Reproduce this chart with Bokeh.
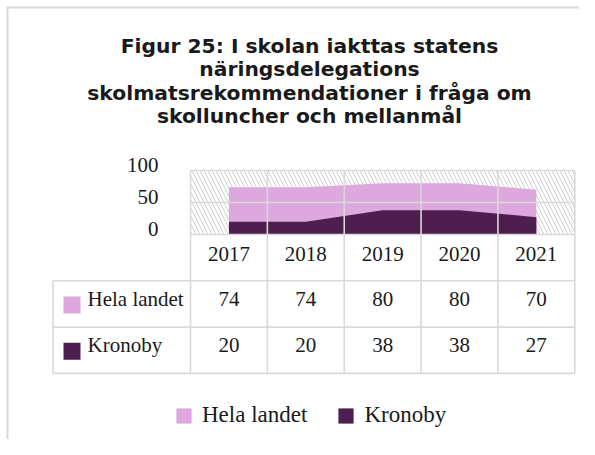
from bokeh.plotting import figure
from bokeh.models import Range1d, Legend, LegendItem
from bokeh.core.properties import value
from bokeh.embed import file_html
from bokeh.resources import INLINE

years = ["2017", "2018", "2019", "2020", "2021"]
hela_landet = [74, 74, 80, 80, 70]
kronoby = [20, 20, 38, 38, 27]
y_ticks = [0, 50, 100]
series_names = ["Hela landet", "Kronoby"]
title_lines = [
    "Figur 25: I skolan iakttas statens",
    "näringsdelegations",
    "skolmatsrekommendationer i fråga om",
    "skolluncher och mellanmål",
]

C_HELA = "#DCA8DE"
C_KRON = "#4E1E50"
GRID = "#D9D9D9"
INK = "#1a1a1a"
SERIF = "Liberation Serif"
SANS = "DejaVu Sans"

W, H = 579, 439
ORG = 0                  # picture pixel of the canvas origin
CW = 76.86               # pixel width of one category column
VU = 0.64                # pixels per value unit
X0, Y0 = 190, 234        # picture pixel of (category 0, value 0)


def px(x):  # picture pixel -> category units
    return (x - X0) / CW


def py(y):  # picture pixel -> value units
    return (Y0 - y) / VU


n = len(years)
label_left = px(52.5)
row_h = 46.3 / VU
y_min = -3 * row_h

p = figure(
    width=W, height=H,
    x_range=Range1d(px(ORG), px(ORG + W)),
    y_range=Range1d(py(ORG + H), py(ORG)),
    output_backend="svg", toolbar_location=None,
    min_border=0, background_fill_color="white", border_fill_color="white",
    outline_line_color=None,
)
p.axis.visible = False
p.grid.visible = False

# outer chart border (top and left edge)
p.segment(x0=[px(6), px(7)], x1=[px(ORG + W), px(7)],
          y0=[py(7), py(7)], y1=[py(7), py(ORG + H)],
          line_color=GRID, line_width=2)

# hatched plot background
p.quad(left=0, right=n, bottom=0, top=100, fill_color="white",
       hatch_pattern="\\", hatch_color="#D0D0D0", hatch_scale=8,
       hatch_weight=1, line_color=None)

xc = [i + 0.5 for i in range(n)]
r_hela = p.varea(x=xc, y1=[0] * n, y2=hela_landet, fill_color=C_HELA)
r_kron = p.varea(x=xc, y1=[0] * n, y2=kronoby, fill_color=C_KRON)

LW = 1.6
# horizontal gridlines in the chart
p.segment(x0=[0] * len(y_ticks), x1=[n] * len(y_ticks), y0=y_ticks, y1=y_ticks,
          line_color=GRID, line_width=LW)
# vertical category lines through chart and table
p.segment(x0=list(range(n + 1)), x1=list(range(n + 1)),
          y0=[100] * (n + 1), y1=[y_min] * (n + 1), line_color=GRID, line_width=LW)
# table horizontal lines
p.segment(x0=[label_left] * 3, x1=[n] * 3, y0=[-row_h, -2 * row_h, y_min],
          y1=[-row_h, -2 * row_h, y_min], line_color=GRID, line_width=LW)
p.segment(x0=[label_left], x1=[label_left], y0=[-row_h], y1=[y_min],
          line_color=GRID, line_width=LW)

# y tick labels
p.text(x=[px(158)] * len(y_ticks), y=[t + 6 / VU for t in y_ticks],
       text=[str(t) for t in y_ticks], text_align="right", text_baseline="middle",
       text_font=value(SERIF), text_font_size="21px", text_color=INK)

# header row
p.text(x=xc, y=[-row_h / 2 + 4 / VU] * n, text=years, text_align="center",
       text_baseline="middle", text_font=value(SERIF), text_font_size="21px",
       text_color=INK)

# data rows
for k, (vals, col) in enumerate([(hela_landet, C_HELA), (kronoby, C_KRON)]):
    yc = -row_h * (k + 1.5)
    p.text(x=xc, y=[yc + 5 / VU] * n, text=[str(v) for v in vals],
           text_align="center", text_baseline="middle", text_font=value(SERIF),
           text_font_size="21px", text_color=INK)
    p.scatter(x=[px(71.5)], y=[yc - 1 / VU], marker="square", size=17,
              fill_color=col, line_color=None)
    p.text(x=[px(87)], y=[yc + 5 / VU], text=[series_names[k]], text_align="left",
           text_baseline="middle", text_font=value(SERIF), text_font_size="21px",
           text_color=INK)

# title
title_y = [45, 68.5, 92, 115.5]
p.text(x=[px(309)] * len(title_lines), y=[py(v) for v in title_y], text=title_lines,
       text_align="center", text_baseline="middle", text_font=value(SANS),
       text_font_size="20.3px", text_font_style="bold", text_color=INK)

legend = Legend(items=[LegendItem(label=series_names[0], renderers=[r_hela]),
                       LegendItem(label=series_names[1], renderers=[r_kron])],
                orientation="horizontal", location=(174 - ORG, ORG + H - 428),
                label_text_font=SERIF, label_text_font_size="23px",
                label_text_color=INK, glyph_width=19, glyph_height=19,
                spacing=29, border_line_color=None, background_fill_alpha=0,
                margin=0, padding=0, label_standoff=9)
p.add_layout(legend, "center")

open("out.html", "w").write(file_html(p, INLINE))
